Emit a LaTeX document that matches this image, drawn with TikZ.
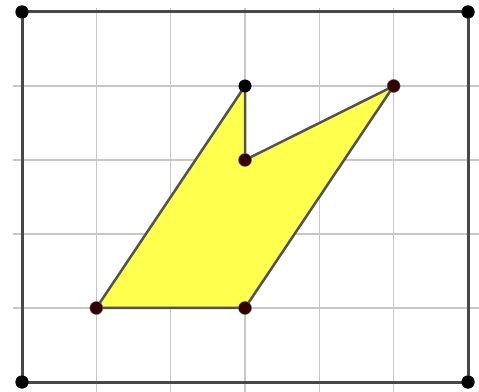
\documentclass[tikz,border=0pt]{standalone}
\begin{document}
\begin{tikzpicture}[x=74.33pt,y=74pt,
  gridline/.style={draw=black!22,line width=1.1pt},
  frameline/.style={draw=black!72,line width=3pt},
  polyedge/.style={draw=black!68,line width=2.5pt,fill={rgb,255:red,255;green,255;blue,77},line join=round},
  blackpt/.style={circle,fill=black,inner sep=0pt,minimum size=13pt},
  redpt/.style={circle,fill={rgb,255:red,51;green,0;blue,0},draw=black!60,line width=0.5pt,inner sep=0pt,minimum size=13pt}]
\useasboundingbox (-0.296,-0.135) rectangle (6.148,5.162);
% grid
\foreach \i in {1,...,5} \draw[gridline] (\i,-0.2) -- (\i,5.054);
\foreach \j in {1,...,4} \draw[gridline] (-0.121,\j) -- (6.2,\j);
% points
\node[blackpt] (A) at (0,0) {};
\node[blackpt] (B) at (6,0) {};
\node[blackpt] (C) at (6,5) {};
\node[blackpt] (D) at (0,5) {};
\coordinate (P1) at (1,1);
\coordinate (P2) at (3,1);
\coordinate (P3) at (5,4);
\coordinate (P4) at (3,3);
\coordinate (P5) at (3,4);
% frame
\draw[frameline] (A.center) -- (B.center) -- (C.center) -- (D.center) -- cycle;
% polygon
\draw[polyedge] (P1) -- (P2) -- (P3) -- (P4) -- (P5) -- cycle;
% vertices
\node[redpt] (Q1) at (P1) {};
\node[redpt] (Q2) at (P2) {};
\node[redpt] (Q3) at (P3) {};
\node[redpt] (Q4) at (P4) {};
\node[blackpt] (Q5) at (P5) {};
\node[blackpt] at (A) {};
\node[blackpt] at (B) {};
\node[blackpt] at (C) {};
\node[blackpt] at (D) {};
\end{tikzpicture}
\end{document}
